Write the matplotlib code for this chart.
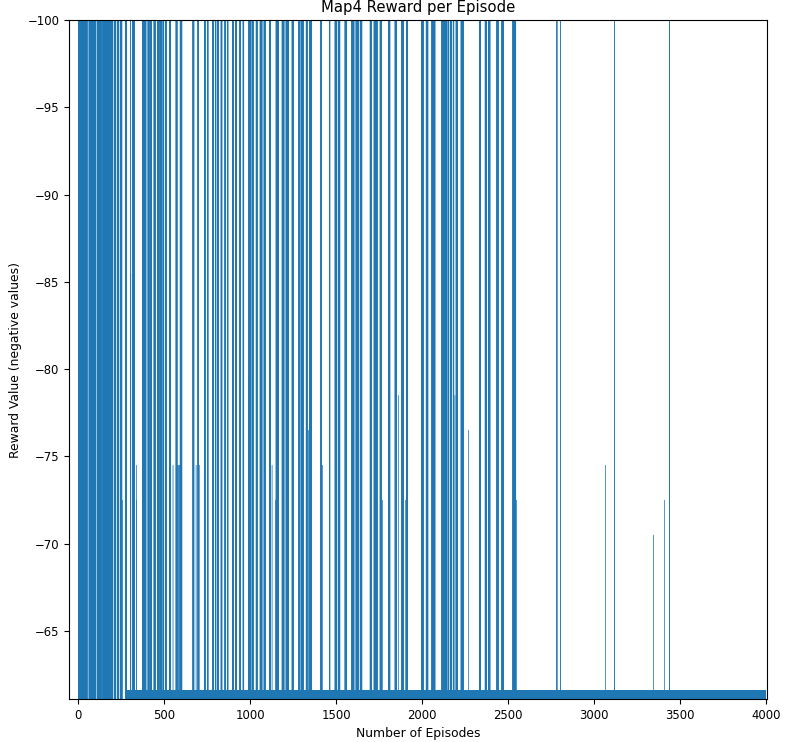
import numpy as np
import matplotlib
matplotlib.use("Agg")
import matplotlib.pyplot as plt

# ---- data ----
n_episodes = 4000
base_reward = -61.6          # typical successful episode reward (bottom strip)
early_reward = -60.0         # early non-failed episodes: above the visible range
early_cutoff = 277           # strip only appears from this episode on
fail_reward = -100.0         # failed episode reward

# runs of failed episodes (start, end inclusive)
fail_starts = [0, 62, 110, 142, 188, 208, 227, 243, 273, 302, 316, 374, 405, 420, 440, 460,
               478, 492, 506, 529, 568, 592, 666, 695, 733, 750, 781, 796, 810, 830, 852,
               866, 896, 915, 939, 958, 991, 1010, 1034, 1057, 1080, 1111, 1150, 1185, 1208,
               1243, 1282, 1297, 1325, 1344, 1410, 1460, 1493, 1511, 1551, 1590, 1615, 1639,
               1697, 1720, 1755, 1803, 1842, 1881, 1909, 1997, 2023, 2056, 2114, 2127, 2150,
               2165, 2180, 2197, 2226, 2333, 2366, 2385, 2434, 2463, 2527, 2783, 2805, 3118,
               3438]
fail_ends = [52, 103, 134, 184, 200, 219, 235, 254, 281, 303, 328, 394, 413, 426, 448, 471,
             484, 498, 512, 538, 575, 603, 673, 699, 739, 755, 786, 801, 815, 836, 857,
             871, 902, 920, 945, 963, 1003, 1018, 1041, 1069, 1088, 1119, 1166, 1197, 1224,
             1251, 1290, 1309, 1332, 1357, 1415, 1464, 1503, 1522, 1561, 1604, 1629, 1650,
             1707, 1739, 1763, 1813, 1852, 1891, 1916, 2007, 2034, 2075, 2123, 2143, 2156,
             2171, 2185, 2207, 2240, 2341, 2376, 2395, 2443, 2473, 2545, 2785, 2806, 3119,
             3440]

# single episodes with intermediate rewards
partial_episodes = [257, 306, 338, 340, 373, 551, 578, 582, 586, 590, 685, 703, 989, 1127,
                    1148, 1338, 1420, 1640, 1768, 1862, 1905, 2191, 2270, 2549, 3068, 3345,
                    3409]
partial_rewards = [-72.5, -85.5, -72.5, -74.5, -72.5, -74.5, -74.5, -74.5, -74.5, -74.5,
                   -74.5, -74.5, -79.5, -74.5, -72.5, -76.5, -74.5, -76.5, -72.5, -78.5,
                   -72.5, -78.5, -76.5, -72.5, -74.5, -70.5, -72.5]

y_ticks = [-100, -95, -90, -85, -80, -75, -70, -65]
x_ticks = [0, 500, 1000, 1500, 2000, 2500, 3000, 3500, 4000]

# ---- build the series ----
episodes = np.arange(n_episodes)
rewards = np.full(n_episodes, base_reward)
rewards[:early_cutoff] = early_reward
for s, e in zip(fail_starts, fail_ends):
    rewards[s:e + 1] = fail_reward
for ep, val in zip(partial_episodes, partial_rewards):
    rewards[ep] = val

# ---- figure ----
W, H, DPI = 785, 742, 100
fig = plt.figure(figsize=(W / DPI, H / DPI), dpi=DPI)
left, right, top, bottom = 69, 767, 20, 699
ax = fig.add_axes([left / W, 1 - bottom / H, (right - left) / W, (bottom - top) / H])

c = "#1f77b4"
ax.bar(episodes, rewards, width=0.8, color=c, edgecolor=c, linewidth=0.25, snap=False)
ax.set_xlim(-54, 4006)
ax.set_ylim(-61.1, -100)
ax.set_yticks(y_ticks)
ax.set_xticks(x_ticks)
ax.tick_params(labelsize=8.4)
ax.set_title("Map4 Reward per Episode", fontsize=10.7)
ax.set_xlabel("Number of Episodes", fontsize=8.9)
ax.set_ylabel("Reward Value (negative values)", fontsize=8.9)

fig.savefig("out.png", dpi=DPI)
